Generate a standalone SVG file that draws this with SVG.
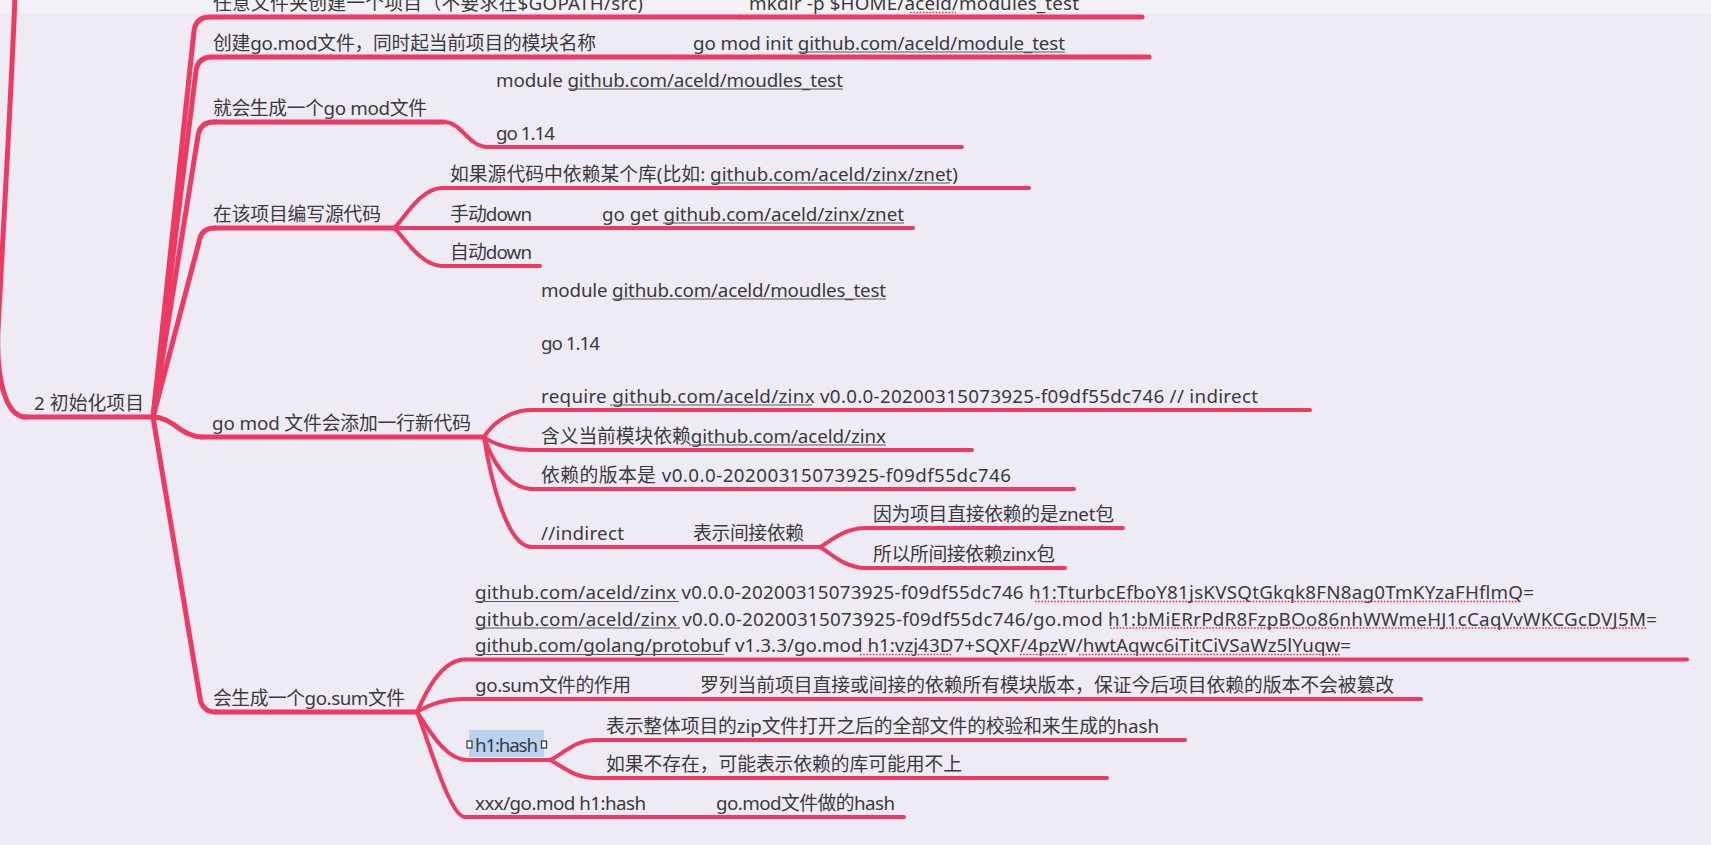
<svg xmlns="http://www.w3.org/2000/svg" width="1711" height="845" viewBox="0 0 1711 845">
<style>
.t{font-family:"Noto Sans","Noto Sans CJK SC",sans-serif;font-size:18.8px;fill:#3a3a3c}
.l1{stroke:#ee3a63;stroke-width:5;fill:none;stroke-linecap:round;stroke-linejoin:round}
.l2{stroke:#ee3a63;stroke-width:4;fill:none;stroke-linecap:round;stroke-linejoin:round}
.lk{stroke:#5a5a5e;stroke-width:1.1;fill:none}
.sp{stroke:#e0304f;stroke-width:1.6;fill:none;stroke-dasharray:1.6 1.6}
</style>
<rect x="0" y="0" width="1711" height="845" fill="#efebf4"/>
<rect x="0" y="0" width="1711" height="14" fill="#f3f1f7"/>

<g id="connectors">
  <path class="l1" d="M 15,-3 C 10,120 2,250 -2,330 C -4,380 6,417 26,417"/>
  <path class="l1" d="M 153,417 L 194,31 Q 196,17 210,17"/>
  <path class="l1" d="M 153,417 L 196,71 Q 198,57 212,57"/>
  <path class="l1" d="M 153,417 L 198,136 Q 200,122 214,122"/>
  <path class="l1" d="M 153,417 L 199,242 Q 201,228 215,228"/>
  <path class="l1" d="M 153,417 C 172,417 182,437 202,437"/>
  <path class="l1" d="M 153,417 L 200,698 Q 202,712 216,712"/>
  <path class="l2" d="M 444,122 C 462,122 468,147 488,147"/>
  <path class="l2" d="M 394,228 C 402,222 420,188 442,188"/>
  <path class="l2" d="M 394,228 C 402,234 420,266 442,266"/>
  <path class="l2" d="M 484,437 C 490,427.5 506,410 532,410"/>
  <path class="l2" d="M 484,437 C 490,441.5 506,450 532,450"/>
  <path class="l2" d="M 484,437 C 490,455 506,489 532,489"/>
  <path class="l2" d="M 484,437 C 490,475 506,547 532,547"/>
  <path class="l2" d="M 820,547 C 832,540 845,528 866,528"/>
  <path class="l2" d="M 820,547 C 832,554 845,568 866,568"/>
  <path class="l2" d="M 417,712 C 425,694 441,659.5 465,659.5"/>
  <path class="l2" d="M 417,712 C 425,707 441,699 465,699"/>
  <path class="l2" d="M 417,712 C 428,728 445,760 467,760"/>
  <path class="l2" d="M 417,712 C 430,745 450,817 465,817"/>
  <path class="l2" d="M 550,760 C 562,755 574,740 596,740"/>
  <path class="l2" d="M 550,760 C 562,766 574,778 596,778"/>
</g>

<g id="n-root">
  <path class="l1" d="M 23,417 H 153"/>
  <text class="t" x="34" y="409.5" textLength="110">2 初始化项目</text>
</g>

<g id="n1">
  <path class="l1" d="M 210,17 H 740"/>
  <text class="t" x="213" y="10" textLength="430">任意文件夹创建一个项目（不要求在$GOPATH/src)</text>
</g>
<g id="n1a">
  <path class="l1" d="M 740,17 H 1142"/>
  <text class="t" x="749" y="10" textLength="330">mkdir -p $HOME/aceld/modules_test</text>
  <path class="sp" d="M 910,12.5 H 956"/>
</g>

<g id="n2">
  <path class="l1" d="M 212,57 H 680"/>
  <text class="t" x="213" y="49.5" textLength="383">创建go.mod文件，同时起当前项目的模块名称</text>
</g>
<g id="n2a">
  <path class="l1" d="M 680,57 H 1149"/>
  <text class="t" x="693" y="49.5" textLength="372">go mod init github.com/aceld/module_test</text>
  <path class="lk" d="M 798,52 H 1065"/>
</g>

<g id="n3">
  <path class="l1" d="M 214,122 H 444"/>
  <text class="t" x="213" y="114.5" textLength="214">就会生成一个go mod文件</text>
</g>
<g id="n3a">
  <path class="l2" d="M 488,147 H 962"/>
  <text class="t" x="496" y="86.5" textLength="347">module github.com/aceld/moudles_test</text>
  <text class="t" x="496" y="139.5" textLength="59">go 1.14</text>
  <path class="lk" d="M 568,89 H 843"/>
</g>

<g id="n4">
  <path class="l1" d="M 215,228 H 394"/>
  <text class="t" x="213" y="220.5" textLength="168">在该项目编写源代码</text>
</g>
<g id="n4a">
  <path class="l2" d="M 442,188 H 1029"/>
  <text class="t" x="450" y="180.5" textLength="508">如果源代码中依赖某个库(比如: github.com/aceld/zinx/znet)</text>
  <path class="lk" d="M 711,183 H 950"/>
</g>
<g id="n4b">
  <path class="l2" d="M 394,228 H 590"/>
  <text class="t" x="450" y="220.5" textLength="82">手动down</text>
</g>
<g id="n4b1">
  <path class="l2" d="M 590,228 H 913"/>
  <text class="t" x="602" y="220.5" textLength="302">go get github.com/aceld/zinx/znet</text>
  <path class="lk" d="M 663,223 H 904"/>
</g>
<g id="n4c">
  <path class="l2" d="M 442,266 H 540"/>
  <text class="t" x="450" y="258.5" textLength="82">自动down</text>
</g>

<g id="n5">
  <path class="l1" d="M 202,437 H 484"/>
  <text class="t" x="212" y="429.5" textLength="259">go mod 文件会添加一行新代码</text>
</g>
<g id="n5a">
  <path class="l2" d="M 532,410 H 1310"/>
  <text class="t" x="541" y="296.5" textLength="345">module github.com/aceld/moudles_test</text>
  <text class="t" x="541" y="349.5" textLength="59">go 1.14</text>
  <text class="t" x="541" y="402.5" textLength="717">require github.com/aceld/zinx v0.0.0-20200315073925-f09df55dc746 // indirect</text>
  <path class="lk" d="M 612,299 H 886"/>
  <path class="lk" d="M 610,405 H 812"/>
</g>
<g id="n5b">
  <path class="l2" d="M 532,450 H 972"/>
  <text class="t" x="541" y="442.5" textLength="345">含义当前模块依赖github.com/aceld/zinx</text>
  <path class="lk" d="M 689,445 H 886"/>
</g>
<g id="n5c">
  <path class="l2" d="M 532,489 H 1074"/>
  <text class="t" x="541" y="481.5" textLength="470">依赖的版本是 v0.0.0-20200315073925-f09df55dc746</text>
</g>
<g id="n5d">
  <path class="l2" d="M 532,547 H 680"/>
  <text class="t" x="541" y="539.5" textLength="83">//indirect</text>
</g>
<g id="n5d1">
  <path class="l2" d="M 680,547 H 820"/>
  <text class="t" x="693" y="539.5" textLength="111">表示间接依赖</text>
</g>
<g id="n5d1a">
  <path class="l2" d="M 866,528 H 1123"/>
  <text class="t" x="873" y="520.5" textLength="241">因为项目直接依赖的是znet包</text>
</g>
<g id="n5d1b">
  <path class="l2" d="M 866,568 H 1065"/>
  <text class="t" x="873" y="560.5" textLength="182">所以所间接依赖zinx包</text>
</g>

<g id="n6">
  <path class="l1" d="M 216,712 H 417"/>
  <text class="t" x="213" y="704.5" textLength="192">会生成一个go.sum文件</text>
</g>
<g id="n6a">
  <path class="l2" d="M 465,659.5 H 1687"/>
  <text class="t" x="475" y="599" textLength="1059">github.com/aceld/zinx v0.0.0-20200315073925-f09df55dc746 h1:TturbcEfboY81jsKVSQtGkqk8FN8ag0TmKYzaFHflmQ=</text>
  <text class="t" x="475" y="625.5" textLength="1182">github.com/aceld/zinx v0.0.0-20200315073925-f09df55dc746/go.mod h1:bMiERrPdR8FzpBOo86nhWWmeHJ1cCaqVvWKCGcDVJ5M=</text>
  <text class="t" x="475" y="652" textLength="876">github.com/golang/protobuf v1.3.3/go.mod h1:vzj43D7+SQXF/4pzW/hwtAqwc6iTitCiVSaWz5lYuqw=</text>
  <path class="lk" d="M 475,601.5 H 679 M 475,628 H 680 M 475,654.5 H 724"/>
  <path class="sp" d="M 1035,601.5 H 1521 M 1110,628 H 1646 M 860,654.5 H 951 M 1020,654.5 H 1068 M 1079,654.5 H 1340"/>
</g>
<g id="n6b">
  <path class="l2" d="M 465,699 H 680"/>
  <text class="t" x="475" y="691.5" textLength="156">go.sum文件的作用</text>
</g>
<g id="n6b1">
  <path class="l2" d="M 680,699 H 1421"/>
  <text class="t" x="700" y="691.5" textLength="694">罗列当前项目直接或间接的依赖所有模块版本，保证今后项目依赖的版本不会被篡改</text>
</g>
<g id="n6c">
  <path class="l2" d="M 467,760 H 550"/>
  <rect x="469" y="730" width="75" height="27" fill="#b9d2f2"/>
  <text class="t" x="475" y="752" textLength="63">h1:hash</text>
  <rect x="467" y="741" width="5" height="7" fill="#ffffff" stroke="#333" stroke-width="1.2"/>
  <rect x="541.5" y="741" width="5" height="7" fill="#ffffff" stroke="#333" stroke-width="1.2"/>
</g>
<g id="n6c1">
  <path class="l2" d="M 596,740 H 1185"/>
  <text class="t" x="606" y="732.5" textLength="553">表示整体项目的zip文件打开之后的全部文件的校验和来生成的hash</text>
</g>
<g id="n6c2">
  <path class="l2" d="M 596,778 H 1107"/>
  <text class="t" x="606" y="770.5" textLength="356">如果不存在，可能表示依赖的库可能用不上</text>
</g>
<g id="n6d">
  <path class="l2" d="M 465,817 H 705"/>
  <text class="t" x="475" y="809.5" textLength="171">xxx/go.mod h1:hash</text>
</g>
<g id="n6d1">
  <path class="l2" d="M 705,817 H 904"/>
  <text class="t" x="716" y="809.5" textLength="179">go.mod文件做的hash</text>
</g>
</svg>
